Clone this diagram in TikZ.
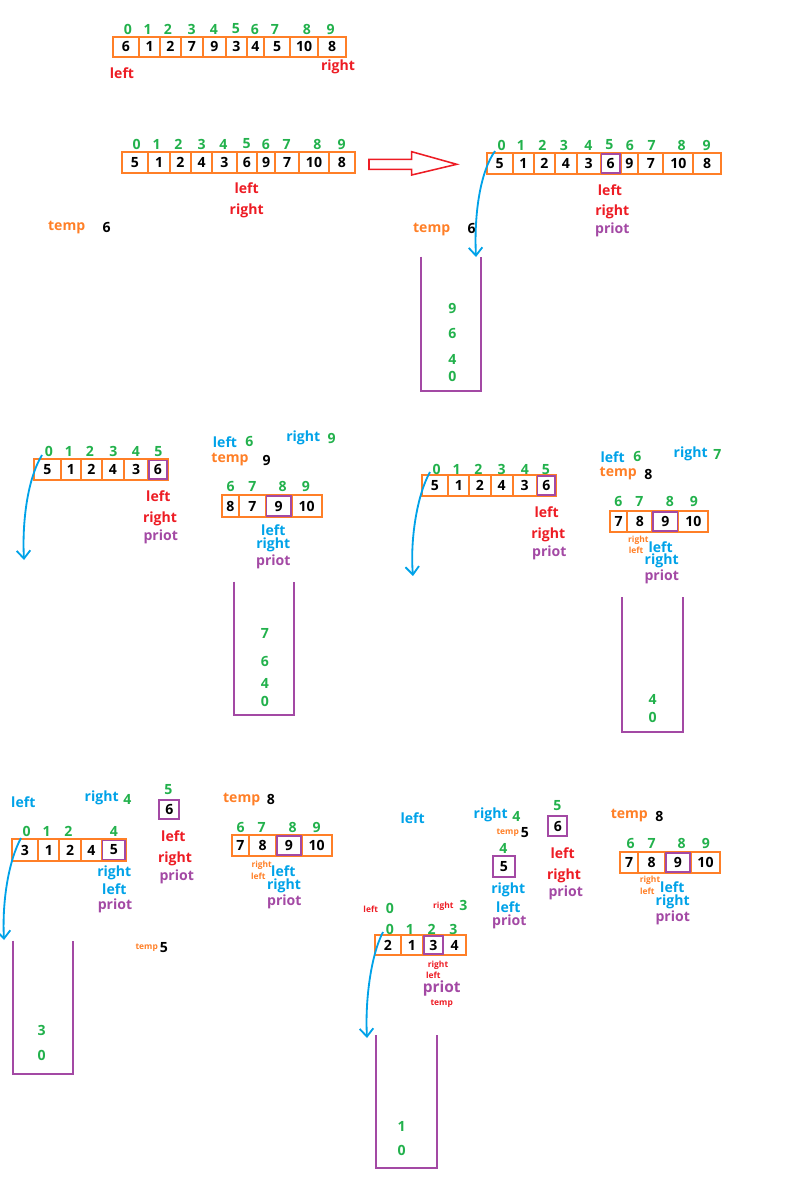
\documentclass[tikz,border=0pt]{standalone}
\usepackage{fontspec}
\setmainfont{Open Sans}
\usepackage{xcolor}
\definecolor{cellorange}{RGB}{255,127,39}
\definecolor{idxgreen}{RGB}{34,177,76}
\definecolor{markred}{RGB}{237,28,36}
\definecolor{ptrblue}{RGB}{0,162,232}
\definecolor{pivpurple}{RGB}{163,73,164}
\usetikzlibrary{arrows.meta}
\tikzset{
  cellbox/.style={draw=cellorange,line width=1.4pt},
  pivbox/.style={draw=pivpurple,line width=1.4pt},
  num/.style={font=\fontsize{10}{12}\selectfont\bfseries,inner sep=0pt},
  idx/.style={num,text=idxgreen},
  tag/.style={num},
  small/.style={font=\fontsize{6}{7}\selectfont\bfseries,inner sep=0pt},
  stackline/.style={draw=pivpurple,line width=1.4pt},
  flow/.style={draw=ptrblue,line width=1.3pt,-{Straight Barb[length=2mm,width=3.4mm]}},
  hollow/.style={draw=markred,line width=1.1pt},
}
% one row of cells: name, top, bottom, list xl/xr/value
\newcommand\cellrow[4]{%
  \foreach \xl/\xr/\v [count=\i from 0] in {#4}{
    \draw[cellbox] (\xl,#2) rectangle (\xr,#3);
    \node[num] (#1-\i) at ({(\xl+\xr)/2},{(#2+#3)/2}) {\v};
  }}
% index labels: name, y, list x/text
\newcommand\idxrow[3]{%
  \foreach \x/\t in {#3}{\node[idx] (#1i\t) at (\x,#2) {\t};}}

\begin{document}
\begin{tikzpicture}[x=0.025cm,y=-0.025cm]
\useasboundingbox (0,0) rectangle (784,1182);

% row 1
\cellrow{a}{36.7}{56.7}{112.7/139.3/6,139.3/160/1,160/181/2,181/202.7/7,202.7/226/9,226/246.7/3,246.7/264.3/4,264.3/290/5,290/318.3/10,318.3/346/8}
\idxrow{a}{29}{128/0,147.7/1,168/2,191.7/3,214/4,236/5,255/6,275/7,307/8,330.7/9}
\node[tag,text=markred] (aleft) at (122,73) {left};
\node[tag,text=markred] (aright) at (338,67) {right};

% row 2 left
\cellrow{b}{151.7}{172.7}{121.7/148.3/5,148.3/170/1,170/191/2,191/212.3/4,212.3/236.7/3,236.7/257.3/6,257.3/275/9,275/299.3/7,299.3/328.7/10,328.7/355/8}
\idxrow{b}{144}{136.7/0,156.7/1,178.3/2,201.7/3,223.3/4,246.7/5,266/6,286.7/7,317.3/8,341.7/9}
\node[tag,text=markred] (bleft) at (246.7,188.3) {left};
\node[tag,text=markred] (bright) at (246.7,211) {right};
\node[tag,text=cellorange] (btemp) at (66.7,227.7) {temp};
\node[num] (btempv) at (106.7,227.7) {6};

% big hollow arrow
\draw[hollow] (369,159.3) -- (411.7,159.3) -- (411.7,151.7) -- (456.7,164.3)
  -- (411.7,175) -- (411.7,169.3) -- (369,169.3) -- cycle;

% row 2 right
\cellrow{c}{152.7}{174.3}{486.7/512.7/5,512.7/534/1,534/555/2,555/576.7/4,576.7/600.7/3,600.7/620.7/6,620.7/638.3/9,638.3/663.3/7,663.3/693.3/10,693.3/721/8}
\draw[pivbox] (601.5,154) rectangle (620,173);
\idxrow{c}{145}{501.7/0,521/1,542.3/2,564/3,588.3/4,609.3/5,630/6,651.7/7,681.7/8,706.7/9}
\node[tag,text=markred] (cleft) at (610,190) {left};
\node[tag,text=markred] (cright) at (612.3,212.3) {right};
\node[tag,text=pivpurple] (cpiv) at (612.3,230) {priot};
\node[tag,text=cellorange] (ctemp) at (431.7,229.3) {temp};
\node[num] (ctempv) at (471.7,228.3) {6};
\coordinate (cfrom) at (495,151);
\coordinate (cto) at (476,257);
\draw[flow] (cfrom) .. controls (480,172) and (474,215) .. (cto);
\draw[stackline] (420.7,256.7) -- (420.7,390.7) -- (480.7,390.7) -- (480.7,256.7);
\node[idx] (cs3) at (452.3,308.3) {9};
\node[idx] (cs2) at (452.3,333.3) {6};
\node[idx] (cs1) at (452.3,359.3) {4};
\node[idx] (cs0) at (452.3,376.7) {0};

% row 3 left
\cellrow{d}{459.3}{480}{34/60.7/5,60.7/81/1,81/101.7/2,101.7/124/4,124/148.3/3,148.3/167.7/6}
\draw[pivbox] (149,460.5) rectangle (167,479);
\idxrow{d}{451.7}{49/0,69/1,90/2,113.3/3,136/4,158.3/5}
\node[tag,text=markred] (dleft) at (158.3,495.7) {left};
\node[tag,text=markred] (dright) at (160,519.3) {right};
\node[tag,text=pivpurple] (dpiv) at (160.7,537.3) {priot};
\coordinate (dfrom) at (42,455);
\coordinate (dto) at (24,560);
\draw[flow] (dfrom) .. controls (28,478) and (22,520) .. (dto);
\node[tag,text=ptrblue] (eleft) at (225,441.7) {left};
\node[idx] (eleftv) at (249.3,441.7) {6};
\node[tag,text=ptrblue] (eright) at (303.3,438.3) {right};
\node[idx] (erightv) at (331.7,438.3) {9};
\node[tag,text=cellorange] (etemp) at (230,459.3) {temp};
\node[num] (etempv) at (266.7,460) {9};
\cellrow{e}{495}{517.3}{221.7/239.3/8,239.3/265.7/7,265.7/291.7/9,291.7/321.7/10}
\draw[pivbox] (266.5,496) rectangle (291,516.3);
\idxrow{e}{486.7}{230.7/6,252.3/7,282.7/8,306/9}
\node[tag,text=ptrblue] (el) at (273.3,530) {left};
\node[tag,text=ptrblue] (er) at (273.3,545) {right};
\node[tag,text=pivpurple] (ep) at (273.3,561.7) {priot};
\draw[stackline] (234,581.7) -- (234,715) -- (294,715) -- (294,581.7);
\node[idx] (es3) at (265,633.3) {7};
\node[idx] (es2) at (265,661) {6};
\node[idx] (es1) at (265,683.3) {4};
\node[idx] (es0) at (265,701.7) {0};

% row 3 right
\cellrow{f}{475}{496}{421.7/448.3/5,448.3/469.3/1,469.3/490.7/2,490.7/512.7/4,512.7/536.7/3,536.7/556/6}
\draw[pivbox] (537.5,476.2) rectangle (555.2,495);
\idxrow{f}{469.3}{436.7/0,456.7/1,478.3/2,501.7/3,525/4,546/5}
\node[tag,text=markred] (fleft) at (546.7,511.7) {left};
\node[tag,text=markred] (fright) at (548.3,535) {right};
\node[tag,text=pivpurple] (fpiv) at (549.3,553.3) {priot};
\coordinate (ffrom) at (430,472);
\coordinate (fto) at (413,576);
\draw[flow] (ffrom) .. controls (417,495) and (410,540) .. (fto);
\node[tag,text=ptrblue] (gleft) at (612.7,457.3) {left};
\node[idx] (gleftv) at (637.3,456.7) {6};
\node[tag,text=ptrblue] (gright) at (690.7,454) {right};
\node[idx] (grightv) at (717.3,454) {7};
\node[tag,text=cellorange] (gtemp) at (618.3,474) {temp};
\node[num] (gtempv) at (648.5,474) {8};
\cellrow{g}{510.7}{531.7}{610/627.3/7,627.3/652.3/8,652.3/678.3/9,678.3/708.3/10}
\draw[pivbox] (653,511.7) rectangle (677.5,530.7);
\idxrow{g}{501.7}{618.3/6,639.3/7,670/8,694/9}
\node[small,text=cellorange] (gsr) at (638.3,540) {right};
\node[small,text=cellorange] (gsl) at (636,550) {left};
\node[tag,text=ptrblue] (gl) at (660.7,546.7) {left};
\node[tag,text=ptrblue] (gr) at (661.7,560.7) {right};
\node[tag,text=pivpurple] (gp) at (661.7,576.7) {priot};
\draw[stackline] (622.3,597.3) -- (622.3,731.7) -- (682.7,731.7) -- (682.7,597.3);
\node[idx] (gs1) at (652.7,699.3) {4};
\node[idx] (gs0) at (652.7,717.3) {0};

% row 4 left
\node[tag,text=ptrblue] (hleft) at (23.3,801.7) {left};
\node[tag,text=ptrblue] (hright) at (101.7,798.3) {right};
\node[idx] (hrightv) at (127.5,799.3) {4};
\cellrow{h}{839.3}{860.7}{11.7/38.3/3,38.3/59.3/1,59.3/81/2,81/101.7/4,101.7/126/5}
\draw[pivbox] (102.5,840.5) rectangle (125.2,859.5);
\idxrow{h}{831.7}{26.7/0,46.7/1,68.3/2,114/4}
\node[tag,text=ptrblue] (hr) at (114.3,873.3) {right};
\node[tag,text=ptrblue] (hl) at (114.3,889.3) {left};
\node[tag,text=pivpurple] (hp) at (115,906) {priot};
\draw[pivbox] (159.3,800) rectangle (179.3,819.3);
\node[num] (hsix) at (169.3,809.7) {6};
\node[idx] (hsixi) at (168.3,790) {5};
\node[tag,text=markred] (hsl) at (173.3,836) {left};
\node[tag,text=markred] (hsr) at (175,859) {right};
\node[tag,text=pivpurple] (hsp) at (176.7,876.7) {priot};
\node[tag,text=cellorange] (htemp) at (241.7,799.3) {temp};
\node[num] (htempv) at (271,799.3) {8};
\cellrow{i}{835}{856}{231.7/249.3/7,249.3/276/8,276/301.7/9,301.7/331.7/10}
\draw[pivbox] (276.8,836) rectangle (301,855);
\idxrow{i}{827.3}{240.7/6,261.7/7,292.7/8,316.7/9}
\node[small,text=cellorange] (isr) at (261.7,865) {right};
\node[small,text=cellorange] (isl) at (258.3,876) {left};
\node[tag,text=ptrblue] (il) at (283.3,870.7) {left};
\node[tag,text=ptrblue] (ir) at (284,886) {right};
\node[tag,text=pivpurple] (ip) at (284.3,901.7) {priot};
\coordinate (hfrom) at (21,838);
\coordinate (hto) at (4,940);
\draw[flow] (hfrom) .. controls (9,860) and (2,900) .. (hto);
\draw[stackline] (13.3,940.7) -- (13.3,1074) -- (73.3,1074) -- (73.3,940.7);
\node[idx] (hs1) at (41.7,1030.7) {3};
\node[idx] (hs0) at (41.7,1055) {0};
\node[small,text=cellorange] (hstemp) at (146.7,947.3) {temp};
\node[num] (hstempv) at (164,947.3) {5};

% row 4 right
\node[tag,text=ptrblue] (jleft) at (412.7,818.3) {left};
\node[tag,text=ptrblue] (jright) at (490.7,815) {right};
\node[idx] (jrightv) at (516.5,816) {4};
\node[small,text=cellorange] (jtemp) at (507.7,832.7) {temp};
\node[num] (jtempv) at (525,832.7) {5};
\node[idx] (jfivei) at (503.3,848.3) {4};
\draw[pivbox] (492.7,856) rectangle (515,877.3);
\node[num] (jfive) at (503.8,866.7) {5};
\node[tag,text=ptrblue] (jr) at (508.3,890) {right};
\node[tag,text=ptrblue] (jl) at (508.3,906.7) {left};
\node[tag,text=pivpurple] (jp) at (509.3,922.3) {priot};
\draw[pivbox] (548.3,816) rectangle (567.3,836);
\node[num] (jsix) at (557.8,826) {6};
\node[idx] (jsixi) at (557.3,806) {5};
\node[tag,text=markred] (jsl) at (562.7,852.7) {left};
\node[tag,text=markred] (jsr) at (564,875.7) {right};
\node[tag,text=pivpurple] (jsp) at (565.7,893.3) {priot};
\node[tag,text=cellorange] (jtemp8) at (629.3,816) {temp};
\node[num] (jtemp8v) at (659.5,816) {8};
\cellrow{j}{852.3}{872.7}{620/638.3/7,638.3/665/8,665/691/9,691/720/10}
\draw[pivbox] (665.8,853.3) rectangle (690.3,871.7);
\idxrow{j}{843.3}{630.7/6,651.7/7,681.7/8,706/9}
\node[small,text=cellorange] (jsr2) at (650,880.7) {right};
\node[small,text=cellorange] (jsl2) at (647.3,891) {left};
\node[tag,text=ptrblue] (jl2) at (672.3,887.3) {left};
\node[tag,text=ptrblue] (jr2) at (672.7,902.3) {right};
\node[tag,text=pivpurple] (jp2) at (672.7,918.3) {priot};

% bottom
\node[small,text=markred] (kleft) at (370.7,909.3) {left};
\node[idx] (kleftv) at (390,908.3) {0};
\node[small,text=markred] (kright) at (443.3,906) {right};
\node[idx] (krightv) at (463.3,905) {3};
\cellrow{k}{935}{955}{375/400.7/2,400.7/423.3/1,423.3/443.3/3,443.3/466/4}
\draw[pivbox] (424,936) rectangle (442.6,954);
\idxrow{k}{929.3}{390/0,410/1,431.7/2,453.3/3}
\node[small,text=markred] (kr) at (438,965) {right};
\node[small,text=markred] (kl) at (433.3,975.5) {left};
\node[tag,text=pivpurple,font=\fontsize{11}{13}\selectfont\bfseries] (kp) at (441.7,988.5) {priot};
\node[small,text=markred] (kt) at (441.7,1003.5) {temp};
\coordinate (kfrom) at (383,932);
\coordinate (kto) at (367,1038);
\draw[flow] (kfrom) .. controls (371,955) and (365,1000) .. (kto);
\draw[stackline] (376,1035) -- (376,1168.3) -- (436.7,1168.3) -- (436.7,1035);
\node[idx] (ks1) at (401.7,1126) {1};
\node[idx] (ks0) at (401.7,1150) {0};
\end{tikzpicture}
\end{document}
